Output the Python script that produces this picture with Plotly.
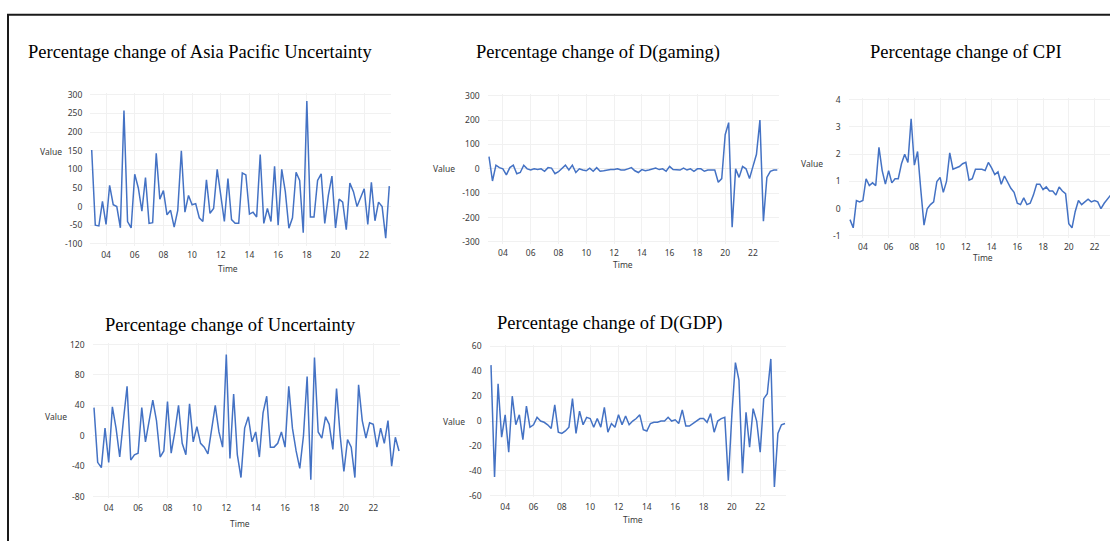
import plotly.graph_objects as go

W, H = 1110, 541

# ---------------- data (quarterly, 2003Q1 .. 2023Q4) ----------------
quarters = [2003 + 0.25 * i for i in range(84)]

asia_pacific_unc = [152, -50, -52, 14, -48, 57, 5, 0, -57, 258,
                    -40, -57, 87, 50, -12, 78, -45, -43, 143, 20,
                    43, -22, -10, -55, -10, 150, -15, 30, 5, 8,
                    -30, -40, 72, -18, -5, 100, 30, -40, 75, -35,
                    -45, -45, 90, 85, -20, -15, -28, 140, -45, -5,
                    -40, 108, -50, 100, 40, -58, -30, 92, 70, -70,
                    283, -28, -28, 70, 88, -45, 30, 82, -57, 20,
                    12, -62, 63, 40, 0, 22, 48, -48, 65, -38,
                    12, 0, -85, 55]

d_gaming = [50, -50, 15, 5, 0, -25, 5, 15, -20, -15,
            15, 0, -5, 0, -3, 0, -10, 5, 3, -20,
            -12, 0, 15, -5, 15, -15, 0, -5, -8, 3,
            -10, 5, -10, -8, -5, -3, -3, 0, -5, -5,
            0, 5, -8, -15, -3, -8, -5, 0, 3, -3,
            0, -10, 10, -3, -5, -5, 3, -5, 0, -10,
            0, 0, -10, -5, -5, -5, -55, -40, 140, 190,
            -240, 0, -35, 10, 0, -40, 10, 60, 200, -215,
            -35, -10, -5, -5]

cpi = [-0.4, -0.7, 0.3, 0.25, 0.3, 1.1, 0.85, 0.95, 0.85, 2.25,
       1.4, 0.9, 1.4, 0.95, 1.1, 1.1, 1.65, 2.0, 1.7, 3.3,
       1.6, 2.1, 0.7, -0.6, 0.0, 0.15, 0.25, 1.0, 1.15, 0.6,
       1.0, 2.05, 1.45, 1.5, 1.55, 1.65, 1.7, 1.05, 1.1, 1.45,
       1.45, 1.45, 1.4, 1.7, 1.5, 1.25, 1.35, 0.9, 1.2, 0.95,
       0.75, 0.6, 0.2, 0.15, 0.4, 0.15, 0.2, 0.5, 0.9, 0.9,
       0.7, 0.8, 0.65, 0.65, 0.5, 0.8, 0.65, 0.55, -0.55, -0.7,
       -0.1, 0.3, 0.15, 0.25, 0.35, 0.25, 0.3, 0.25, 0.0, 0.2,
       0.35, 0.5, 0.4, 0.3]

uncertainty = [37, -35, -42, 10, -35, 38, 10, -28, 20, 65,
               -32, -25, -23, 37, -8, 20, 47, 20, -28, -20,
               45, -23, 5, 40, -10, -25, 42, -8, 12, -10,
               -15, -24, 10, 40, 5, -15, 107, -30, 55, -25,
               -55, 10, 25, -8, 5, -28, 30, 52, -15, -15,
               -10, 5, -15, 65, 10, -20, -43, 0, 78, -58,
               103, 5, -3, 25, 15, -18, 62, 0, -47, -5,
               -15, -55, 67, 20, -3, 17, 15, -15, 10, -10,
               20, -40, -2, -20]

d_gdp = [45, -45, 30, -13, 5, -25, 20, -3, 5, -15,
         12, -5, -3, 3, 0, -1, -3, -6, 13, -9,
         -10, -8, -5, 18, -10, 8, -3, 3, 2, -5,
         2, -5, 11, -9, -2, -5, 5, -3, 4, -3,
         0, 2, 5, -7, -8, -2, -1, -1, 0, 0,
         3, 0, 1, -2, 9, -4, -4, -2, 0, 2,
         2, -1, 6, -9, 0, 2, 3, -48, 5, 47,
         33, -42, 7, -21, 10, 0, -25, 18, 22, 50,
         -53, -10, -3, -2]

tick_years = list(range(2004, 2023, 2))
tick_labels = ["%02d" % (y % 100) for y in tick_years]

titles = ["Percentage change of Asia Pacific Uncertainty",
          "Percentage change of D(gaming)",
          "Percentage change of CPI",
          "Percentage change of Uncertainty",
          "Percentage change of D(GDP)"]
series = [asia_pacific_unc, d_gaming, cpi, uncertainty, d_gdp]

# ---------------- layout of each panel (pixel geometry) ----------------
# x: (pixel of first quarter, pixel of last quarter, right clip pixel or None)
# y: (pixel of low tick, pixel of high tick, low tick, high tick, dtick)
panels = [
    dict(x=(91.7, 389.3, None), y=(243, 92, -100, 300, 50),
         title=(199.5, 49), value=(50.5, 149), time=(228, 268)),
    dict(x=(489.0, 777.3, None), y=(241, 93, -300, 300, 100),
         title=(597.5, 49), value=(444, 167), time=(623, 264)),
    dict(x=(850.0, 850.0 + 20.75 * 12.87, 1110), y=(235, 97, -1, 4, 1),
         title=(966, 49), value=(812, 162), time=(983, 257)),
    dict(x=(94.0, 399.0, None), y=(499, 345, -80, 120, 40),
         title=(230, 325), value=(55.5, 418), time=(240, 526)),
    dict(x=(491.0, 785.0, None), y=(498, 347, -60, 60, 20),
         title=(610, 324), value=(454, 423), time=(633, 522)),
]

LINE = "#4472C4"
TICKFONT = dict(family="Noto Sans", size=8.5, color="#3a3a3a")
TITLEFONT = dict(family="Liberation Serif", size=18.5, color="#000000")


def fmt(v):
    if abs(v - round(v)) < 1e-9:
        return str(int(round(v)))
    return ("%g" % v)


fig = go.Figure()
annotations = []
layout_axes = {}

for k, (p, ys, ttl) in enumerate(zip(panels, series, titles)):
    idx = "" if k == 0 else str(k + 1)
    xa, ya = "x" + idx, "y" + idx

    # x geometry
    p0, p1, clip = p["x"]
    span = quarters[-1] - quarters[0]
    s = (p1 - p0) / span
    r0 = quarters[0] - 0.1
    left_px = p0 - 0.1 * s
    if clip is None:
        r1 = quarters[-1] + 0.1
        right_px = p1 + 0.1 * s
    else:
        right_px = clip
        r1 = quarters[0] + (clip - p0) / s
    xdom = [max(0, left_px / W), min(1, right_px / W)]

    # y geometry
    plo, phi, vlo, vhi, dt = p["y"]
    sy = (plo - phi) / (vhi - vlo)
    pad = 0.012 * (vhi - vlo)
    ylo, yhi = vlo - pad, vhi + pad
    bot_px = plo + pad * sy
    top_px = phi - pad * sy
    ydom = [1 - bot_px / H, 1 - top_px / H]
    n = int(round((vhi - vlo) / dt))
    yticks = [vlo + i * dt for i in range(n + 1)]

    fig.add_trace(go.Scatter(x=quarters, y=ys, mode="lines",
                             line=dict(color=LINE, width=1.5),
                             xaxis=xa, yaxis=ya, showlegend=False,
                             hoverinfo="skip"))

    layout_axes["xaxis" + idx] = dict(
        domain=xdom, range=[r0, r1], anchor=ya,
        tickvals=tick_years, ticktext=tick_labels,
        tickfont=TICKFONT, showgrid=True, gridcolor="#f1f1f1",
        zeroline=False, showline=False, ticks="", ticklabelstandoff=3,
        fixedrange=True)
    layout_axes["yaxis" + idx] = dict(
        domain=ydom, range=[ylo, yhi], anchor=xa,
        tickvals=yticks, ticktext=[fmt(v) for v in yticks],
        tickfont=TICKFONT, showgrid=True,
        gridcolor="#f1f1f1", zeroline=True, zerolinecolor="#ececec",
        zerolinewidth=1, showline=False, ticks="", ticklabelstandoff=7,
        fixedrange=True)

    tx, ty = p["title"]
    annotations.append(dict(text=ttl, x=tx / W, y=1 - ty / H, xref="paper",
                            yref="paper", showarrow=False, font=TITLEFONT,
                            xanchor="center", yanchor="middle"))
    vx, vy = p["value"]
    annotations.append(dict(text="Value", x=vx / W, y=1 - vy / H,
                            xref="paper", yref="paper", showarrow=False,
                            font=TICKFONT, xanchor="center", yanchor="middle"))
    mx, my = p["time"]
    annotations.append(dict(text="Time", x=mx / W, y=1 - my / H,
                            xref="paper", yref="paper", showarrow=False,
                            font=TICKFONT, xanchor="center", yanchor="middle"))

fig.update_layout(
    width=W, height=H, margin=dict(l=0, r=0, t=0, b=0),
    paper_bgcolor="white", plot_bgcolor="white",
    annotations=annotations,
    shapes=[dict(type="rect", xref="paper", yref="paper",
                 x0=8 / W, x1=1.02, y0=-0.02, y1=1 - 11 / H,
                 line=dict(color="#1a1a1a", width=2), layer="above")],
    **layout_axes)

fig.write_html("out.html", config={"displayModeBar": False},
               post_script="document.body.style.margin='0';"
                           "document.body.style.overflow='hidden';")
